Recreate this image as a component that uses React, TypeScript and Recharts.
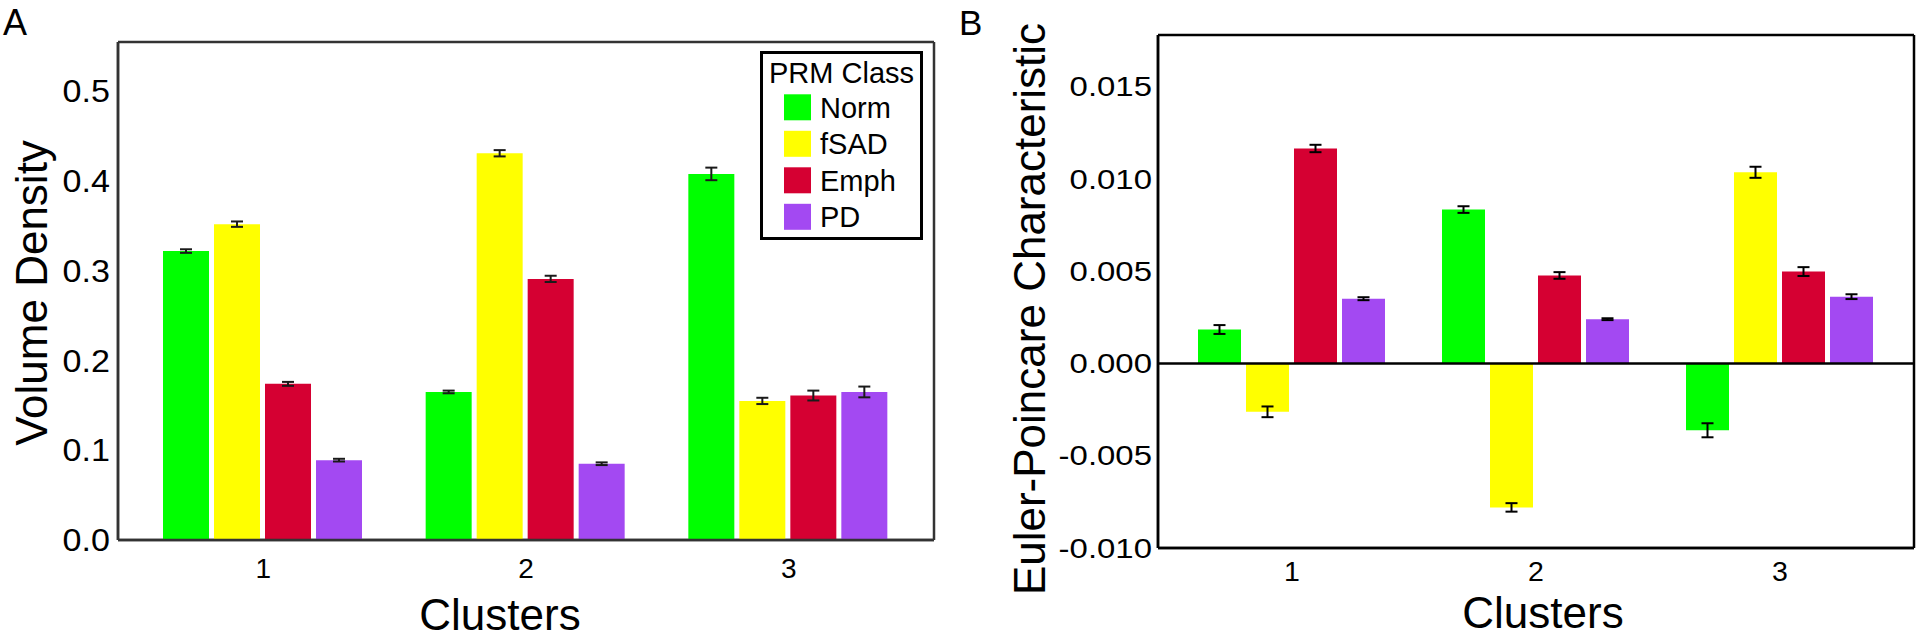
import React from 'react';
import { BarChart, Bar, XAxis, YAxis, ErrorBar, ReferenceLine, CartesianGrid, Legend } from 'recharts';

const FONT = '"Liberation Sans", Arial, Helvetica, sans-serif';

// ---- shared ----
const clusters = ['1', '2', '3'];
const seriesNames = ['Norm', 'fSAD', 'Emph', 'PD'];
const seriesKeys = ['norm', 'fsad', 'emph', 'pd'];
const seriesColors = ['#00FF00', '#FFFF00', '#D50032', '#A349F2'];

// ---- panel A: Volume Density ----
const volNorm = [0.322, 0.165, 0.408];
const volFsad = [0.352, 0.431, 0.155];
const volEmph = [0.174, 0.291, 0.161];
const volPd = [0.089, 0.085, 0.165];
const volNormErr = [0.002, 0.0015, 0.007];
const volFsadErr = [0.003, 0.0035, 0.0035];
const volEmphErr = [0.0022, 0.0035, 0.0055];
const volPdErr = [0.0015, 0.0015, 0.006];
const volTicks = [0, 0.1, 0.2, 0.3, 0.4, 0.5];
const volDomain = [0, 0.555];

// ---- panel B: Euler-Poincare Characteristic ----
const eulerNorm = [0.00184, 0.00834, -0.00362];
const eulerFsad = [-0.00262, -0.0078, 0.01036];
const eulerEmph = [0.01165, 0.00477, 0.00498];
const eulerPd = [0.00351, 0.0024, 0.00362];
const eulerNormErr = [0.00024, 0.00018, 0.00038];
const eulerFsadErr = [0.00029, 0.00023, 0.0003];
const eulerEmphErr = [0.0002, 0.00018, 0.00024];
const eulerPdErr = [0.00008, 0.00005, 0.00013];
const eulerTicks = [-0.01, -0.005, 0, 0.005, 0.01, 0.015];
const eulerDomain = [-0.01, 0.0178];

const buildRows = (vals: number[][], errs: number[][]) =>
  clusters.map((c, i) => {
    const row: any = { cluster: c };
    seriesKeys.forEach((k, j) => {
      row[k] = vals[j][i];
      row[k + 'Err'] = errs[j][i];
    });
    return row;
  });

const volData = buildRows([volNorm, volFsad, volEmph, volPd], [volNormErr, volFsadErr, volEmphErr, volPdErr]);
const eulerData = buildRows([eulerNorm, eulerFsad, eulerEmph, eulerPd], [eulerNormErr, eulerFsadErr, eulerEmphErr, eulerPdErr]);

const makeYTick = (fs: number, sx: number, digits: number) => (props: any) => {
  const { x, y, payload } = props;
  return (
    <g transform={`translate(${x},${y})`}>
      <text transform={`scale(${sx},1)`} x={0} y={0} dy="0.355em" textAnchor="end" fontSize={fs} fontFamily={FONT} fill="#000">
        {Number(payload.value).toFixed(digits)}
      </text>
    </g>
  );
};

const makeXTick = (fs: number) => (props: any) => {
  const { x, y, payload } = props;
  return (
    <text x={x} y={y} dy="0.71em" textAnchor="middle" fontSize={fs} fontFamily={FONT} fill="#000">
      {payload.value}
    </text>
  );
};

// frame lines at the plot-area edges, taken from the chart's own offset
const frameV = (p: any) => [p.offset.left, p.offset.left + p.offset.width];
const frameH = (p: any) => [p.offset.top, p.offset.top + p.offset.height];

const LegendBox = (props: any) => {
  const payload = ((props.payload || []) as any[])
    .slice()
    .sort((a, b) => seriesNames.indexOf(String(a.value)) - seriesNames.indexOf(String(b.value)));
  return (
    <svg width={163} height={189} style={{ display: 'block' }}>
      <rect x={1.5} y={1.5} width={160} height={186} fill="#fff" stroke="#000" strokeWidth={3} />
      <text x={9} y={32} fontSize={29} fontFamily={FONT} fill="#000">PRM Class</text>
      {payload.map((p: any, i: number) => {
        const cy = 56.3 + i * 36.5;
        return (
          <g key={String(p.value)}>
            <rect x={24} y={cy - 13} width={27} height={26} fill={p.color} />
            <text x={60} y={cy + 10.4} fontSize={29} fontFamily={FONT} fill="#000">{p.value}</text>
          </g>
        );
      })}
    </svg>
  );
};

const renderBars = (errColor: string) =>
  seriesKeys.map((k, j) => (
    <Bar key={k} dataKey={k} name={seriesNames[j]} fill={seriesColors[j]} isAnimationActive={false}>
      <ErrorBar dataKey={k + 'Err'} width={6} strokeWidth={2} stroke={errColor} direction="y" isAnimationActive={false} />
    </Bar>
  ));

export default function App() {
  const frameA = { stroke: '#333', strokeWidth: 2.5 };
  const frameB = { stroke: '#000', strokeWidth: 2.5 };
  return (
    <div style={{ position: 'absolute', left: 0, top: 0, width: 1920, height: 639, background: '#fff', overflow: 'hidden' }}>
      <div style={{ position: 'absolute', left: 0, top: 0 }}>
        <BarChart
          width={960}
          height={639}
          data={volData}
          margin={{ top: 42, right: 26, left: 58, bottom: 39 }}
          barCategoryGap={31}
          barGap={5}
        >
          <CartesianGrid
            fill="none"
            stroke="#333"
            strokeWidth={2.5}
            verticalCoordinatesGenerator={frameV}
            horizontalCoordinatesGenerator={frameH}
          />
          <XAxis
            dataKey="cluster"
            height={60}
            tickSize={0}
            tickLine={false}
            tickMargin={18}
            axisLine={frameA}
            padding={{ left: 14, right: 14 }}
            tick={makeXTick(28)}
          />
          <YAxis
            width={60}
            domain={volDomain}
            ticks={volTicks}
            tickSize={0}
            tickLine={false}
            tickMargin={8}
            axisLine={frameA}
            tick={makeYTick(31, 1.1, 1)}
            allowDataOverflow
          />
          {renderBars('#1a1a1a')}
          <Legend
            layout="horizontal"
            verticalAlign="middle"
            align="center"
            wrapperStyle={{ top: 51, left: 760, width: 163, height: 189 }}
            content={LegendBox}
          />
        </BarChart>
      </div>
      <div style={{ position: 'absolute', left: 960, top: 0 }}>
        <BarChart
          width={960}
          height={639}
          data={eulerData}
          margin={{ top: 35, right: 6, left: 98, bottom: 41 }}
          barCategoryGap={28}
          barGap={5}
        >
          <CartesianGrid
            fill="none"
            stroke="#000"
            strokeWidth={2.5}
            verticalCoordinatesGenerator={frameV}
            horizontalCoordinatesGenerator={frameH}
          />
          <XAxis
            dataKey="cluster"
            height={50}
            tickSize={0}
            tickLine={false}
            tickMargin={13}
            axisLine={frameB}
            padding={{ left: 12, right: 12 }}
            tick={makeXTick(28.5)}
          />
          <YAxis
            width={100}
            domain={eulerDomain}
            ticks={eulerTicks}
            tickSize={0}
            tickLine={false}
            tickMargin={6}
            axisLine={frameB}
            tick={makeYTick(27, 1.22, 3)}
            allowDataOverflow
          />
          {renderBars('#000')}
          <ReferenceLine y={0} stroke="#000" strokeWidth={2.5} />
        </BarChart>
      </div>
      <svg width={1920} height={639} style={{ position: 'absolute', left: 0, top: 0, pointerEvents: 'none' }}>
        <text x={3} y={35} fontSize={36} fontFamily={FONT} fill="#000">A</text>
        <text x={959} y={35} fontSize={35} fontFamily={FONT} fill="#000">B</text>
        <text x={0} y={0} transform="translate(47,293) rotate(-90)" textAnchor="middle" fontSize={44} fontFamily={FONT} fill="#000">Volume Density</text>
        <text x={500} y={630} textAnchor="middle" fontSize={44} fontFamily={FONT} fill="#000">Clusters</text>
        <text x={0} y={0} transform="translate(1045,309) rotate(-90)" textAnchor="middle" fontSize={44} fontFamily={FONT} fill="#000">Euler-Poincare Characteristic</text>
        <text x={1543} y={628} textAnchor="middle" fontSize={44} fontFamily={FONT} fill="#000">Clusters</text>
      </svg>
    </div>
  );
}
